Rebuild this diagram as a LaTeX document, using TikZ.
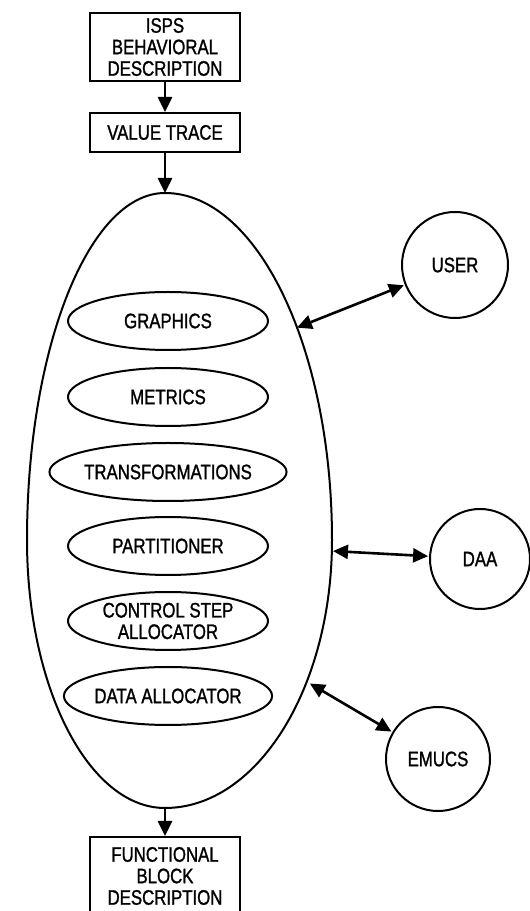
\documentclass[tikz,border=0pt]{standalone}
\usepackage{fontspec}
\setmainfont{Liberation Sans}[FakeStretch=0.8,FakeBold=1.2]
\usetikzlibrary{shapes.geometric,arrows.meta}
\begin{document}
\begin{tikzpicture}[x=1pt,y=1pt,
  every node/.style={font=\fontsize{21}{21.5}\selectfont, align=center, inner sep=0pt},
  stepbox/.style={draw, line width=2pt, minimum width=150pt},
  module/.style={draw, ellipse, line width=2pt, minimum width=200pt, minimum height=58pt},
  agent/.style={draw, circle, line width=2pt},
  flow/.style={line width=2.6pt, -{Triangle[length=15pt,width=14pt]}},
  link/.style={line width=2.6pt, {Triangle[length=15pt,width=14pt]}-{Triangle[length=15pt,width=14pt]}, shorten <=1pt, shorten >=1pt}]
\useasboundingbox (0,0) rectangle (530,911);

% input and output boxes (the last one runs off the lower edge)
\node[stepbox, minimum height=68pt] (isps) at (165,864) {ISPS\\BEHAVIORAL\\DESCRIPTION};
\node[stepbox, minimum height=39pt] (trace) at (165,778.5) {VALUE TRACE};
\node[stepbox, minimum height=78pt] (fbd) at (165,35) {FUNCTIONAL\\BLOCK\\DESCRIPTION};

% the large egg-shaped system outline
\draw[line width=2pt] (165,718)
  arc[start angle=90, end angle=0, x radius=167, y radius=347]
  arc[start angle=0, end angle=-90, x radius=167, y radius=268]
  arc[start angle=270, end angle=180, x radius=138, y radius=268]
  arc[start angle=180, end angle=90, x radius=138, y radius=347];
\coordinate (eggtop) at (165,718);
\coordinate (eggbot) at (165,103);
\coordinate (equser) at (296,583);
\coordinate (eqdaa) at (332,360);
\coordinate (eqemucs) at (309,228);

% internal modules
\node[module] (graphics) at (168,590) {GRAPHICS};
\node[module] (metrics) at (168,514) {METRICS};
\node[module] (transf) at (168,439) {TRANSFORMATIONS};
\node[module] (part) at (168,365) {PARTITIONER};
\node[module] (csa) at (168,290) {CONTROL STEP\\ALLOCATOR};
\node[module] (dalloc) at (168,215) {DATA ALLOCATOR};

% external agents
\node[agent, minimum size=106pt] (user) at (455,646) {USER};
\node[agent, minimum size=100pt] (daa) at (480,352) {DAA};
\node[agent, minimum size=104pt] (emucs) at (438,152) {EMUCS};

% connectors
\draw[flow] (isps) -- (trace);
\draw[flow] (trace) -- (eggtop);
\draw[flow] (eggbot) -- (fbd);
\draw[link] (equser) -- (user);
\draw[link] (eqdaa) -- (daa);
\draw[link] (eqemucs) -- (emucs);
\end{tikzpicture}
\end{document}
